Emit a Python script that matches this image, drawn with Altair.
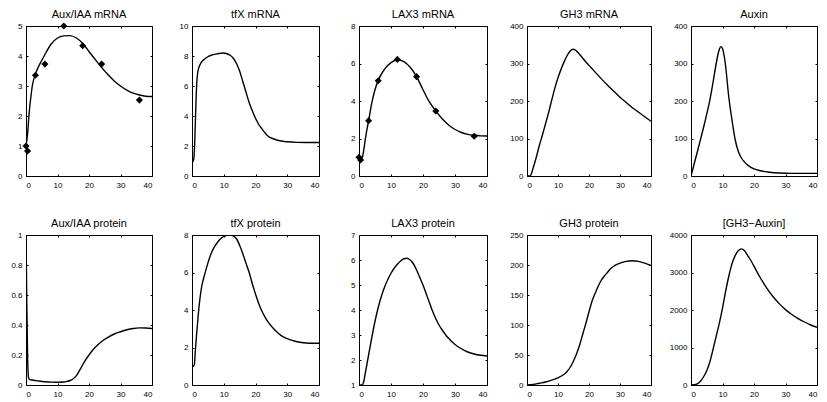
import altair as alt
import pandas as pd

# ---- data (x = time 0..40) ----
titles = ["Aux/IAA mRNA", "tfX mRNA", "LAX3 mRNA", "GH3 mRNA", "Auxin",
          "Aux/IAA protein", "tfX protein", "LAX3 protein", "GH3 protein", "[GH3\u2212Auxin]"]

t1 = [0, 0.5, 1, 1.5, 2, 3, 4, 5, 6, 8, 10, 12, 14, 16, 18, 20, 22, 24, 26, 28, 30, 32, 34, 36, 38, 40]
v1 = [1.0, 1.4, 2.1, 2.6, 3.0, 3.4, 3.65, 3.85, 4.05, 4.4, 4.6, 4.67, 4.68, 4.6, 4.42, 4.15, 3.88, 3.62,
      3.38, 3.17, 3.0, 2.86, 2.76, 2.7, 2.66, 2.65]
dt1 = [0, 0.5, 3, 6, 12, 18, 24, 36]
dv1 = [1.0, 0.83, 3.36, 3.73, 5.0, 4.34, 3.73, 2.53]

t2 = [0, 0.3, 0.6, 0.9, 1.2, 1.5, 1.8, 2.2, 2.6, 3, 4, 5, 6, 8, 10, 11, 12, 13, 14, 15, 16, 17, 18, 19,
      20, 21, 22, 24, 26, 28, 30, 33, 36, 40]
v2 = [1.0, 0.95, 1.2, 2.5, 4.6, 6.2, 6.9, 7.25, 7.45, 7.6, 7.8, 7.95, 8.05, 8.15, 8.2, 8.15, 8.05, 7.85,
      7.5, 7.0, 6.3, 5.6, 4.9, 4.35, 3.85, 3.45, 3.15, 2.65, 2.45, 2.33, 2.28, 2.24, 2.23, 2.23]

t3 = [0, 0.5, 1, 1.5, 2, 3, 4, 5, 6, 8, 10, 12, 14, 16, 18, 20, 22, 24, 26, 28, 30, 32, 34, 36, 38, 40]
v3 = [1.0, 0.85, 0.95, 1.4, 2.0, 2.95, 3.9, 4.6, 5.1, 5.7, 6.05, 6.2, 6.1, 5.8, 5.3, 4.6, 3.95, 3.47,
      3.05, 2.72, 2.48, 2.32, 2.22, 2.17, 2.14, 2.13]
dt3 = [0, 0.5, 3, 6, 12, 18, 24, 36]
dv3 = [1.0, 0.85, 2.95, 5.08, 6.22, 5.3, 3.47, 2.12]

t4 = [0, 1, 2, 3, 4, 5, 6, 7, 8, 9, 10, 11, 12, 13, 14, 15, 16, 17, 18, 19, 20, 22, 24, 26, 28, 30, 32,
      34, 36, 38, 40]
v4 = [0, 0, 22, 50, 82, 110, 140, 170, 203, 235, 262, 285, 305, 322, 334, 338, 333, 324, 314, 304, 295,
      277, 259, 242, 226, 210, 196, 182, 170, 158, 146]

t5 = [0, 1, 2, 3, 4, 5, 6, 7, 8, 8.5, 9, 9.5, 10, 10.5, 11, 12, 13, 14, 15, 16, 17, 18, 20, 22, 25, 28,
      32, 36, 40]
v5 = [0, 32, 64, 97, 130, 165, 203, 250, 300, 322, 338, 345, 340, 322, 292, 210, 150, 98, 66, 48, 37, 29,
      19, 14, 10, 8, 7, 7, 7]

t6 = [0, 0.25, 0.5, 0.8, 1.2, 2, 4, 6, 8, 10, 12, 13, 14, 15, 16, 17, 18, 19, 20, 21, 22, 23, 24, 25,
      26, 28, 30, 32, 34, 36, 38, 40]
v6 = [1.0, 0.55, 0.2, 0.05, 0.036, 0.033, 0.027, 0.022, 0.019, 0.018, 0.02, 0.024, 0.03, 0.042, 0.062,
      0.097, 0.135, 0.17, 0.2, 0.228, 0.252, 0.272, 0.29, 0.305, 0.318, 0.34, 0.355, 0.368, 0.377,
      0.381, 0.38, 0.377]

t7 = [0, 0.5, 0.8, 1, 1.5, 2, 2.5, 3, 4, 5, 6, 7, 8, 9, 10, 11, 12, 13, 14, 15, 16, 17, 18, 19, 20, 21,
      22, 23, 24, 26, 28, 30, 32, 34, 36, 38, 40]
v7 = [1.0, 1.0, 1.15, 1.7, 2.8, 3.8, 4.6, 5.2, 5.9, 6.5, 7.0, 7.35, 7.6, 7.8, 7.92, 7.98, 8.0, 7.95, 7.8,
      7.45, 7.0, 6.5, 6.0, 5.4, 4.85, 4.35, 3.95, 3.62, 3.35, 2.95, 2.65, 2.47, 2.36, 2.28, 2.24, 2.23,
      2.23]

t8 = [0, 1, 1.5, 2, 3, 4, 5, 6, 7, 8, 9, 10, 11, 12, 13, 14, 15, 16, 17, 18, 19, 20, 21, 22, 23, 24, 25,
      26, 27, 28, 30, 32, 34, 36, 38, 40]
v8 = [1.0, 1.0, 1.15, 1.5, 2.2, 2.9, 3.55, 4.1, 4.55, 4.92, 5.22, 5.47, 5.67, 5.83, 5.96, 6.05, 6.07,
      6.0, 5.85, 5.6, 5.3, 5.0, 4.65, 4.3, 3.95, 3.65, 3.4, 3.2, 3.02, 2.87, 2.62, 2.45, 2.32, 2.24, 2.19,
      2.16]

t9 = [0, 2, 4, 6, 8, 10, 12, 13, 14, 15, 16, 17, 18, 19, 20, 21, 22, 23, 24, 25, 26, 27, 28, 30, 32, 34,
      36, 38, 40]
v9 = [0, 1, 3, 5, 8, 12, 18, 23, 30, 40, 52, 67, 85, 103, 122, 140, 153, 165, 175, 182, 188, 194, 198,
      203, 206, 207, 206, 203, 199]

t10 = [0, 1, 2, 3, 4, 5, 6, 7, 8, 9, 10, 11, 12, 13, 14, 15, 16, 17, 18, 19, 20, 21, 22, 24, 26, 28, 30,
       32, 34, 36, 38, 40]
v10 = [0, 5, 30, 100, 220, 380, 620, 950, 1300, 1650, 2050, 2500, 2900, 3230, 3450, 3580, 3630, 3580,
       3450, 3320, 3170, 3010, 2860, 2590, 2360, 2170, 2010, 1880, 1770, 1680, 1600, 1540]

x_ticks = [0, 10, 20, 30, 40]
y_domains = [[0, 5], [0, 10], [0, 8], [0, 400], [0, 400],
             [0, 1], [0, 8], [1, 7], [0, 250], [0, 4000]]
y_ticks = [[0, 1, 2, 3, 4, 5], [0, 2, 4, 6, 8, 10], [0, 2, 4, 6, 8], [0, 100, 200, 300, 400],
           [0, 100, 200, 300, 400],
           [0, 0.2, 0.4, 0.6, 0.8, 1], [0, 2, 4, 6, 8], [1, 2, 3, 4, 5, 6, 7], [0, 50, 100, 150, 200, 250],
           [0, 1000, 2000, 3000, 4000]]

series = [(t1, v1), (t2, v2), (t3, v3), (t4, v4), (t5, v5),
          (t6, v6), (t7, v7), (t8, v8), (t9, v9), (t10, v10)]
markers = {0: (dt1, dv1), 2: (dt3, dv3)}
col_widths = [126, 127, 128, 124, 126]

FONT = "Liberation Sans"
TICK = 2
FMT = ".6~g"


def panel(i):
    ts, vs = series[i]
    df = pd.DataFrame({"t": ts, "v": vs})
    xsc = alt.Scale(domain=[0, 40], nice=False, zero=False)
    ysc = alt.Scale(domain=y_domains[i], nice=False, zero=False)
    common = dict(domain=False, grid=False, title=None, tickSize=TICK, offset=-TICK,
                  tickColor="black", labelFont=FONT, labelFontSize=8, labelColor="black")
    line = alt.Chart(df).mark_line(color="black", strokeWidth=1.4, interpolate="monotone",
                                   clip=True).encode(
        x=alt.X("t:Q", scale=xsc,
                axis=alt.Axis(orient="bottom", values=x_ticks, format=FMT, labelPadding=5, **common)),
        y=alt.Y("v:Q", scale=ysc,
                axis=alt.Axis(orient="left", values=y_ticks[i], format=FMT, labelPadding=4, **common)),
    )
    ticks = alt.Chart(df).mark_line(opacity=0).encode(
        x=alt.X("t:Q", scale=xsc,
                axis=alt.Axis(orient="top", values=x_ticks, labels=False, **common)),
        y=alt.Y("v:Q", scale=ysc,
                axis=alt.Axis(orient="right", values=y_ticks[i], labels=False, **common)),
    )
    layers = [line, ticks]
    if i in markers:
        mt, mv = markers[i]
        mdf = pd.DataFrame({"t": mt, "v": mv})
        pts = alt.Chart(mdf).mark_point(shape="diamond", filled=True, color="black", size=50,
                                        opacity=1).encode(
            x=alt.X("t:Q", scale=xsc, axis=None),
            y=alt.Y("v:Q", scale=ysc, axis=None),
        )
        layers.append(pts)
    return alt.layer(*layers).resolve_axis(x="independent", y="independent").properties(
        width=col_widths[i % 5], height=150, title=titles[i])


chart = alt.concat(*[panel(i) for i in range(10)], columns=5,
                   spacing={"row": 59, "column": 40}, bounds="flush", align="each").properties(
    padding={"left": 2, "top": 0, "right": 0, "bottom": 0}
).configure_view(stroke="black", strokeWidth=1).configure_title(
    font=FONT, fontSize=11, fontWeight="normal", color="black", offset=2, anchor="middle"
)

chart.save("out.html", embed_options={"renderer": "svg", "actions": False})
